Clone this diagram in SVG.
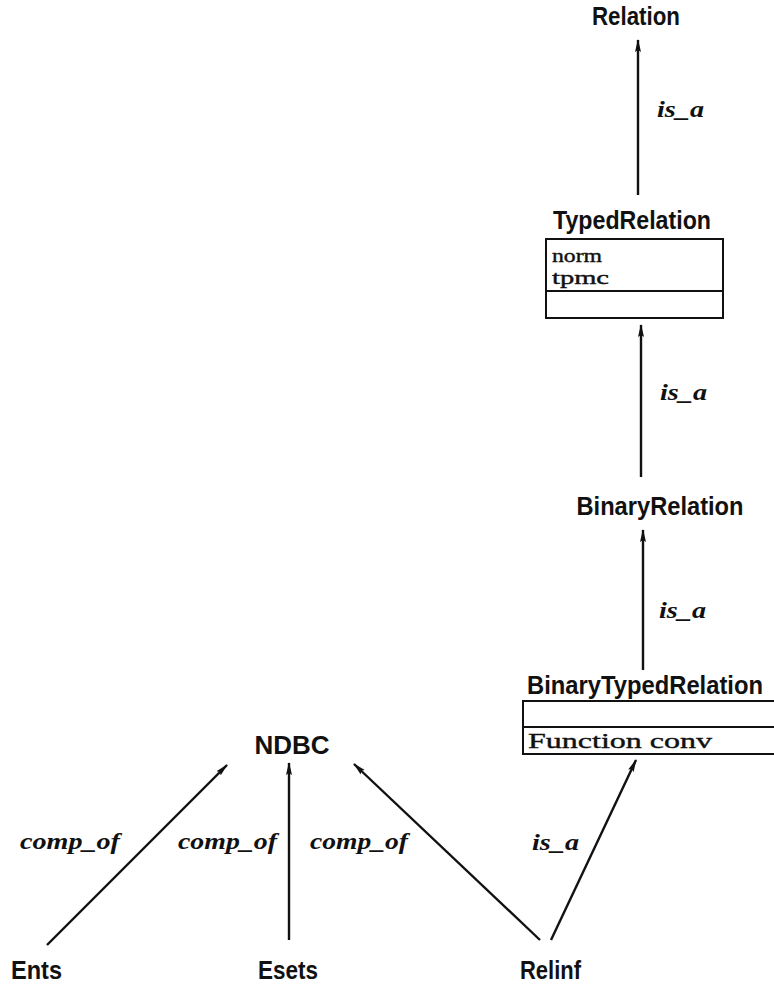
<svg xmlns="http://www.w3.org/2000/svg" width="774" height="989" viewBox="0 0 774 989">
<style>
.node{font-family:"Liberation Sans","DejaVu Sans",sans-serif;font-size:26px;font-weight:bold;fill:#111}
.lbl{font-family:"Liberation Serif","DejaVu Serif",serif;font-size:23px;font-style:italic;font-weight:bold;fill:#111}
.attr{font-family:"Liberation Serif","DejaVu Serif",serif;font-size:22px;fill:#111;stroke:#111;stroke-width:0.4}
.attr.sm{font-size:19px}
.box{fill:#fff;stroke:#111;stroke-width:2}
.edge{stroke:#111;stroke-width:2.4;fill:none;marker-end:url(#ah)}
</style>
<defs>
<marker id="ah" viewBox="0 0 13 8" refX="12" refY="4" markerWidth="13" markerHeight="8" markerUnits="userSpaceOnUse" orient="auto">
<path d="M0,1 L13,4 L0,7 L2,4 Z" fill="#111"/>
</marker>
</defs>
<rect width="774" height="989" fill="#fff"/>
<g id="connectors">
<line class="edge" x1="638" y1="195" x2="638" y2="40"/>
<text class="lbl" x="657" y="117" textLength="47" lengthAdjust="spacingAndGlyphs">is_a</text>
<line class="edge" x1="641" y1="477" x2="641" y2="325"/>
<text class="lbl" x="660" y="400" textLength="47" lengthAdjust="spacingAndGlyphs">is_a</text>
<line class="edge" x1="643" y1="670" x2="643" y2="530"/>
<text class="lbl" x="659" y="618" textLength="47" lengthAdjust="spacingAndGlyphs">is_a</text>
<line class="edge" x1="551" y1="940" x2="636" y2="760"/>
<text class="lbl" x="532" y="850" textLength="47" lengthAdjust="spacingAndGlyphs">is_a</text>
<line class="edge" x1="47" y1="945" x2="227" y2="765"/>
<text class="lbl" x="20" y="849" textLength="100" lengthAdjust="spacingAndGlyphs">comp_of</text>
<line class="edge" x1="289" y1="940" x2="289" y2="763"/>
<text class="lbl" x="178" y="849" textLength="99" lengthAdjust="spacingAndGlyphs">comp_of</text>
<line class="edge" x1="540" y1="940" x2="354" y2="764"/>
<text class="lbl" x="310" y="849" textLength="98" lengthAdjust="spacingAndGlyphs">comp_of</text>
</g>
<g id="Relation"><text class="node" x="636" y="25" text-anchor="middle" textLength="88" lengthAdjust="spacingAndGlyphs">Relation</text></g>
<g id="TypedRelation">
<text class="node" x="632" y="229" text-anchor="middle" textLength="158" lengthAdjust="spacingAndGlyphs">TypedRelation</text>
<rect class="box" x="546" y="239" width="177" height="79"/>
<line x1="546" y1="291" x2="723" y2="291" stroke="#111" stroke-width="2"/>
<text class="attr sm" x="552" y="262" textLength="50" lengthAdjust="spacingAndGlyphs">norm</text>
<text class="attr sm" x="552" y="284" textLength="57" lengthAdjust="spacingAndGlyphs">tpmc</text>
</g>
<g id="BinaryRelation"><text class="node" x="660" y="515" text-anchor="middle" textLength="167" lengthAdjust="spacingAndGlyphs">BinaryRelation</text></g>
<g id="BinaryTypedRelation">
<text class="node" x="645" y="694" text-anchor="middle" textLength="236" lengthAdjust="spacingAndGlyphs">BinaryTypedRelation</text>
<rect class="box" x="523" y="701" width="260" height="53"/>
<line x1="523" y1="727" x2="783" y2="727" stroke="#111" stroke-width="2"/>
<text class="attr" x="528" y="748" textLength="184" lengthAdjust="spacingAndGlyphs">Function conv</text>
</g>
<g id="NDBC"><text class="node" x="292" y="754" text-anchor="middle" textLength="75" lengthAdjust="spacingAndGlyphs">NDBC</text></g>
<g id="Ents"><text class="node" x="11" y="979" textLength="51" lengthAdjust="spacingAndGlyphs">Ents</text></g>
<g id="Esets"><text class="node" x="258" y="979" textLength="60" lengthAdjust="spacingAndGlyphs">Esets</text></g>
<g id="Relinf"><text class="node" x="520" y="979" textLength="61" lengthAdjust="spacingAndGlyphs">Relinf</text></g>
</svg>
